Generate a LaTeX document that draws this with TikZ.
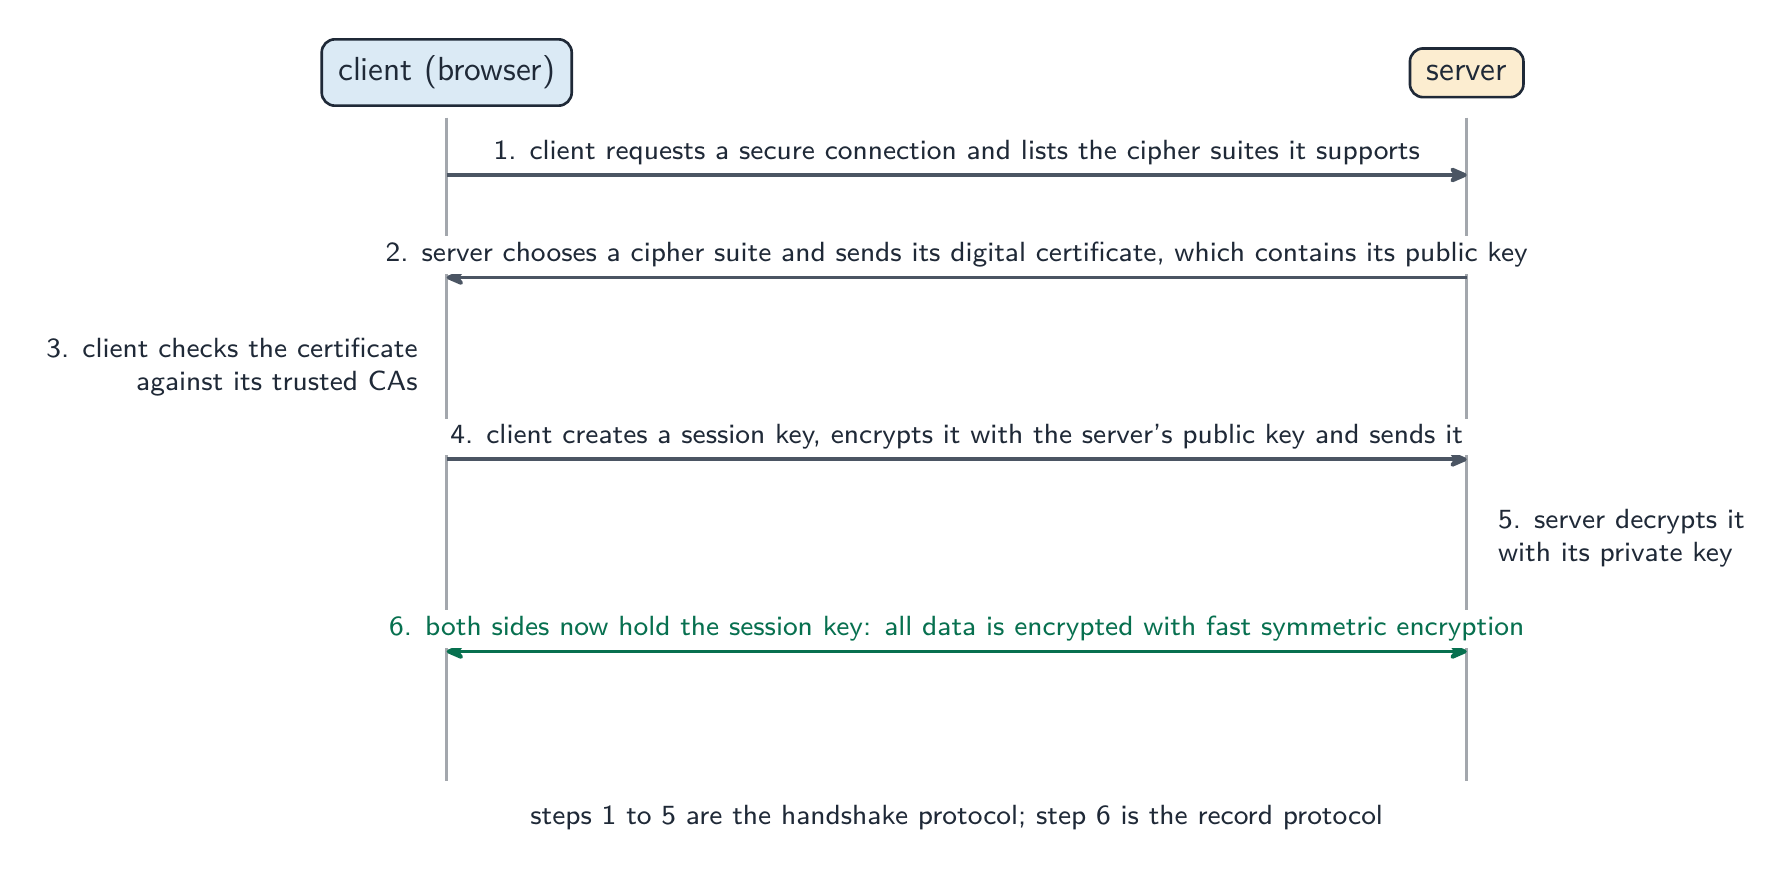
\documentclass[tikz,border=0pt]{standalone}
\usepackage{tikz}
\usetikzlibrary{arrows.meta,positioning}
\renewcommand{\familydefault}{\sfdefault}
\definecolor{inkcol}{HTML}{1F2937}
\definecolor{arrowcol}{HTML}{4B5563}
\definecolor{lifecol}{HTML}{A3A7AD}
\definecolor{clientfill}{HTML}{DBEAF5}
\definecolor{serverfill}{HTML}{FCEDD0}
\definecolor{greencol}{HTML}{07704F}

\begin{document}
\begin{tikzpicture}[x=0.303pt,y=0.303pt,yscale=-1,
  actor/.style={draw=inkcol,line width=0.8pt,rounded corners=4pt,inner sep=5pt,text=inkcol,font=\fontsize{10.1}{12}\selectfont},
  lifeline/.style={draw=lifecol,line width=0.9pt},
  msg/.style={draw=arrowcol,line width=1.2pt,-{Stealth[length=7pt,width=6pt,round]}},
  msglabel/.style={fill=white,inner sep=1.8pt,text=inkcol,font=\fontsize{8.4}{10}\selectfont,anchor=south,yshift=0.6pt},
  note/.style={inner sep=1.8pt,text=inkcol,font=\fontsize{8.4}{10}\selectfont}]
\useasboundingbox (0,0) rectangle (1788,881);

%Actors
\node [actor,fill=clientfill] (client) at (446.7,72.5) {client (browser)};
\node [actor,fill=serverfill] (server) at (1466.7,72.8) {server};

%Lifeline points
\coordinate (ctop) at (446.7,117.7);
\coordinate (stop) at (1466.7,117.7);
\coordinate (cbot) at (446.7,780.6);
\coordinate (sbot) at (1466.7,780.6);
\foreach \n/\y in {1/175,2/277.5,3/367.5,4/459.4,5/538.5,6/651.5} {
  \coordinate (c\n) at (446.7,\y);
  \coordinate (s\n) at (1466.7,\y);
}

%Lifelines
\draw [lifeline] (ctop) -- (cbot);
\draw [lifeline] (stop) -- (sbot);

%Messages
\draw [msg] (c1) -- (s1) node [msglabel,midway] (m1) {1. client requests a secure connection and lists the cipher suites it supports};
\draw [msg] (s2) -- (c2) node [msglabel,midway] (m2) {2. server chooses a cipher suite and sends its digital certificate, which contains its public key};
\draw [msg] (c4) -- (s4) node [msglabel,midway] (m4) {4. client creates a session key, encrypts it with the server’s public key and sends it};
\draw [msg,draw=greencol,{Stealth[length=7pt,width=6pt,round]}-{Stealth[length=7pt,width=6pt,round]}] (c6) -- (s6) node [msglabel,midway,text=greencol] (m6) {6. both sides now hold the session key: all data is encrypted with fast symmetric encryption};

%Notes
\node [note,align=right,left=6.8pt of c3] (check) {3. client checks the certificate\\against its trusted CAs};
\node [note,align=left,right=7.5pt of s5] (decrypt) {5. server decrypts it\\with its private key};

%Footer
\path (cbot) -- (sbot) coordinate [midway] (bmid);
\node [note,below=5.6pt of bmid] (foot) {steps 1 to 5 are the handshake protocol; step 6 is the record protocol};

\end{tikzpicture}
\end{document}
